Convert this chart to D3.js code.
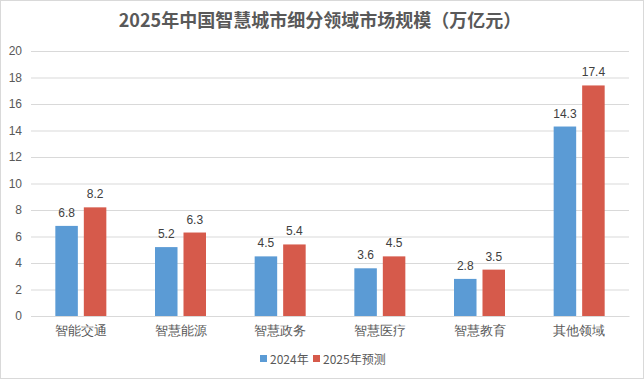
<!DOCTYPE html>
<html><head><meta charset="utf-8">
<script src="https://cdn.jsdelivr.net/npm/d3@7"></script>
<style>body{margin:0;background:#fff;}svg{display:block;font-family:"Noto Sans CJK SC","Microsoft YaHei",sans-serif;}</style>
</head><body><svg id="c" width="644" height="379"></svg>
<script>
const categories = ["智能交通","智慧能源","智慧政务","智慧医疗","智慧教育","其他领域"];
const series2024 = [6.8,5.2,4.5,3.6,2.8,14.3];
const series2025 = [8.2,6.3,5.4,4.5,3.5,17.4];
const seriesNames = ["2024年","2025年预测"];
const yTicks = [0,2,4,6,8,10,12,14,16,18,20];
const colors = ["#5B9BD5","#D65A4B"];

const svg = d3.select("#c");
svg.append("rect").attr("x",0.5).attr("y",0.5).attr("width",643).attr("height",378)
  .attr("fill","#fff").attr("stroke","#D9D9D9");

const L=31,R=629,T=51,B=316;
const x = d3.scaleBand().domain(categories).range([L,R]);
const y = d3.scaleLinear().domain([0,20]).range([B,T]);
const inner = d3.scaleBand().domain([0,1]).range([0,x.bandwidth()]).paddingInner(0.21).paddingOuter(0.854);

svg.append("text").attr("x",320).attr("y",27).attr("text-anchor","middle")
  .attr("font-size",18).attr("font-weight","bold").attr("fill","#595959")
  .text("2025年中国智慧城市细分领域市场规模（万亿元）");

const yAxis = svg.append("g").attr("transform",`translate(${L},0)`)
  .call(d3.axisLeft(y).tickValues(yTicks).tickSize(-(R-L)).tickPadding(9));
yAxis.select(".domain").remove();
yAxis.selectAll(".tick line").attr("stroke","#D9D9D9");
yAxis.selectAll(".tick text").attr("font-size",12).attr("fill","#595959").attr("font-family","'Liberation Sans',Arial,sans-serif");

const xAxis = svg.append("g").attr("transform",`translate(0,${B})`)
  .call(d3.axisBottom(x).tickSize(0).tickPadding(8));
xAxis.select(".domain").attr("stroke","#D9D9D9");
xAxis.selectAll(".tick text").attr("font-size",12.5).attr("fill","#595959").attr("dy","0.9em");

const data = [series2024, series2025];
data.forEach((vals,si)=>{
  const g = svg.append("g");
  g.selectAll("rect").data(vals).join("rect")
    .attr("x",(d,i)=>x(categories[i])+inner(si))
    .attr("width",inner.bandwidth())
    .attr("y",d=>y(d)).attr("height",d=>B-y(d))
    .attr("fill",colors[si]);
  g.selectAll("text").data(vals).join("text")
    .attr("x",(d,i)=>x(categories[i])+inner(si)+inner.bandwidth()/2)
    .attr("y",d=>y(d)-9)
    .attr("text-anchor","middle").attr("font-size",12).attr("fill","#404040")
    .attr("font-family","'Liberation Sans',Arial,sans-serif")
    .text(d=>d.toFixed(1));
});

const leg = svg.append("g");
const legX = [260,313];
seriesNames.forEach((n,i)=>{
  leg.append("rect").attr("x",legX[i]).attr("y",355).attr("width",7).attr("height",7).attr("fill",colors[i]);
  leg.append("text").attr("x",legX[i]+10).attr("y",364).attr("font-size",12).attr("fill","#595959").text(n);
});
</script></body></html>
